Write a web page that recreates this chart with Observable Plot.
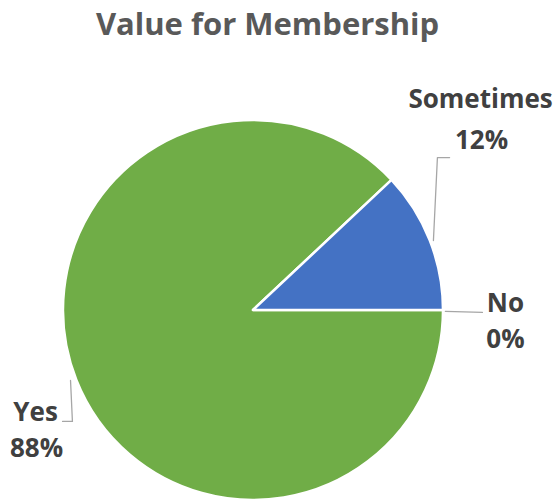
<!DOCTYPE html>
<html>
<head>
<meta charset="utf-8">
<script src="https://cdn.jsdelivr.net/npm/d3@7"></script>
<script src="https://cdn.jsdelivr.net/npm/@observablehq/plot@0.6"></script>
<style>
  html, body { margin: 0; padding: 0; background: #fff; }
</style>
</head>
<body>
<div id="chart"></div>
<script>
const title = "Value for Membership";
const categories = ["Yes", "Sometimes", "No"];
const values = [88, 12, 0];
const percentLabels = ["88%", "12%", "0%"];
const colors = ["#70AD47", "#4472C4", "#A5A5A5"];

// layout (pie units: center 0,0, radius 1)
const labelPos = [
  {name: [-1.147, -0.539], pct: [-1.142, -0.729]},
  {name: [1.195, 1.108], pct: [1.2, 0.893]},
  {name: [1.326, 0.035], pct: [1.326, -0.155]}
];
const leaders = [
  [[-0.963, -0.368], [-0.953, -0.584], [-1.005, -0.584]],
  [[0.947, 0.368], [0.968, 0.805], [1.032, 0.805]],
  [[1.01, -0.005], [1.205, -0.01]]
];

const data = categories.map((c, i) => ({category: c, value: values[i], pct: percentLabels[i]}));
const colorScale = Plot.scale({color: {type: "ordinal", domain: categories, range: colors}});

const nameData = data.map((d, i) => ({text: d.category, x: labelPos[i].name[0], y: labelPos[i].name[1]}));
const pctData = data.map((d, i) => ({text: d.pct, x: labelPos[i].pct[0], y: labelPos[i].pct[1]}));
const leaderData = leaders.flatMap((pts, i) => pts.map(p => ({k: i, x: p[0], y: p[1]})));

const pieMark = (index, scales) => {
  const cx = scales.x(0), cy = scales.y(0), r = scales.x(1) - scales.x(0);
  const arcs = d3.pie().sort(null).value(d => d.value)
    .startAngle(Math.PI / 2).endAngle(Math.PI / 2 + 2 * Math.PI)(data);
  const g = d3.create("svg:g").attr("transform", `translate(${cx},${cy})`);
  g.selectAll("path").data(arcs.filter(a => a.data.value > 0)).join("path")
    .attr("d", d3.arc().innerRadius(0).outerRadius(r))
    .attr("fill", d => colorScale.apply(d.data.category))
    .attr("stroke", "white")
    .attr("stroke-width", 2.5)
    .attr("stroke-linejoin", "round");
  return g.node();
};

const chart = Plot.plot({
  width: 560,
  height: 499,
  margin: 0,
  x: {domain: [-1, 1], range: [63, 443], axis: null},
  y: {domain: [-1, 1], range: [500, 120], axis: null},
  style: {fontFamily: "'Open Sans', sans-serif", background: "white"},
  marks: [
    pieMark,
    Plot.line(leaderData, {x: "x", y: "y", z: "k", stroke: "#A6A6A6", strokeWidth: 1.3}),
    Plot.text([title], {frameAnchor: "top", dx: -13, dy: 12, text: d => d, fontSize: 31, fontWeight: "bold", fill: "#595959"}),
    Plot.text(nameData, {x: "x", y: "y", text: "text", fontSize: 26, fontWeight: "bold", fill: "#404040"}),
    Plot.text(pctData, {x: "x", y: "y", text: "text", fontSize: 26, fontWeight: "bold", fill: "#404040"})
  ]
});
document.getElementById("chart").appendChild(chart);
</script>
</body>
</html>
